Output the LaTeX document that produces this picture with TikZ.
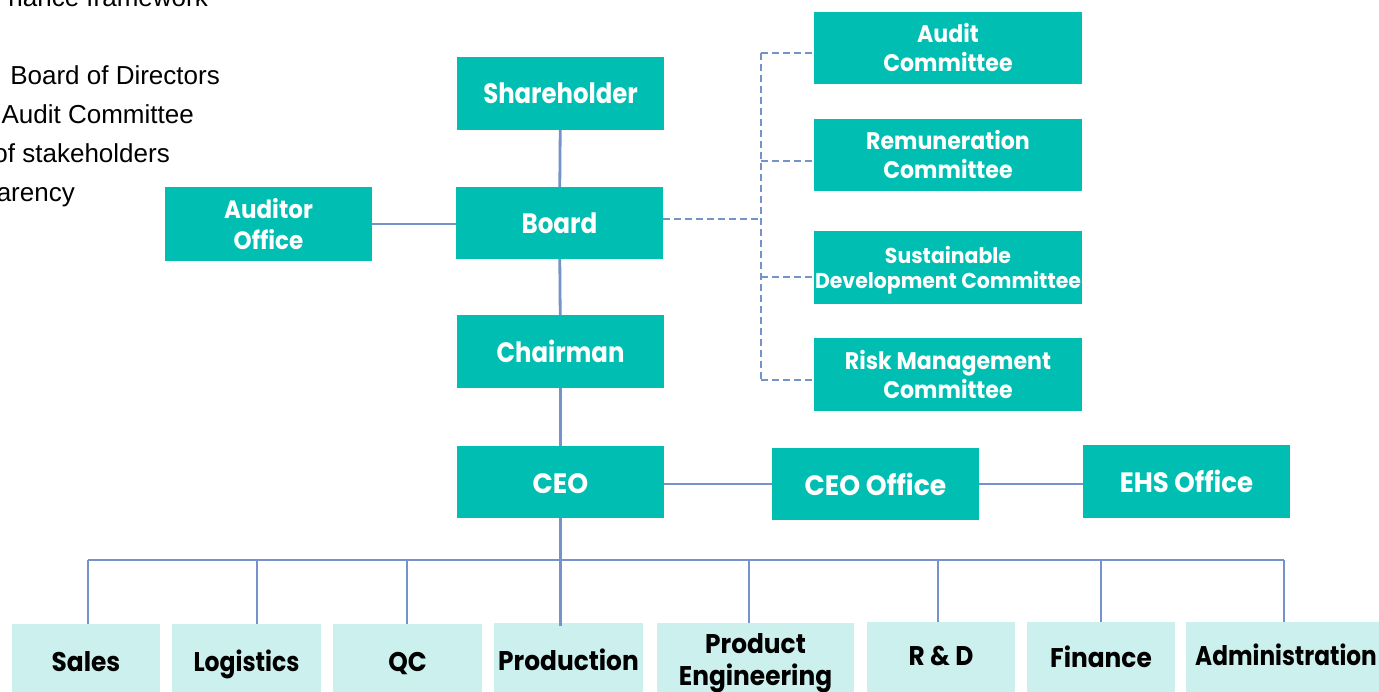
\documentclass[tikz,border=0pt]{standalone}
\usepackage{fontspec}
\setmainfont{Poppins}
\newfontfamily\arialf{Liberation Sans}
\usepackage{graphicx}
\definecolor{tealbox}{HTML}{00BFB2}
\definecolor{lightbox}{HTML}{CCF0EE}
\definecolor{linec}{HTML}{7393C9}
% raise text without changing the box size
\newcommand\lift[2]{\raisebox{#1}[\height][\depth]{#2}}
% two-line text, squeezed and lowered a little
\newcommand\sqz[2][0.92]{\lift{-3.5pt}{\scalebox{#1}[1]{\begin{tabular}{@{}c@{}}#2\end{tabular}}}}
\newcommand\sq[2][0.92]{\scalebox{#1}[1]{#2}}
\tikzset{
  tbox/.style={fill=tealbox, draw=none, text=white, inner sep=0pt, minimum width=207pt, minimum height=73pt},
  cbox/.style={fill=tealbox, draw=none, text=white, inner sep=0pt, minimum width=268pt, minimum height=72pt},
  lbox/.style={fill=lightbox, draw=none, text=black, inner sep=0pt, minimum height=74pt},
  one/.style={text height=20pt, text depth=0pt},
  bigf/.style={font=\bfseries\fontsize{28}{30}\selectfont},
  midf/.style={font=\bfseries\fontsize{25}{31}\selectfont},
  comf/.style={font=\bfseries\fontsize{24}{29}\selectfont},
  smlf/.style={font=\bfseries\fontsize{21.5}{24}\selectfont},
  botf/.style={font=\bfseries\fontsize{27}{32}\selectfont},
  conn/.style={draw=linec, line width=2.8pt},
  dconn/.style={draw=linec, line width=2.8pt, dash pattern=on 7pt off 4pt},
  ltxt/.style={font=\arialf\fontsize{26}{30}\selectfont, text=black, inner sep=0pt, anchor=base east}
}
\begin{document}
\begin{tikzpicture}[x=1pt,y=-1pt]
\useasboundingbox (0,0) rectangle (1379,692);
\clip (0,0) rectangle (1379,692);
% top-left text fragments (cut by the picture edge, as in the reference)
\node[ltxt] (t0) at (208,7) {nance framework};
\node[ltxt] (t1) at (220,85) {Board of Directors};
\node[ltxt] (t2) at (194,124) {Audit Committee};
\node[ltxt] (t3) at (170,163) {of stakeholders};
\node[ltxt] (t4) at (75,202) {arency};
% main boxes
\node[tbox,bigf] (sh) at (560.5,93.5) {\sq[0.87]{Shareholder}};
\node[tbox,bigf,minimum height=72pt] (board) at (559.5,223) {\sq[0.88]{Board}};
\node[tbox,midf,minimum height=74pt] (aud) at (268.5,224) {\sqz{Auditor\\Office}};
\node[tbox,bigf] (chair) at (560.5,351.5) {\sq[0.87]{Chairman}};
\node[tbox,bigf,minimum height=72pt] (ceo) at (560.5,482) {\lift{-2pt}{\sq[0.95]{CEO}}};
\node[tbox,bigf,minimum height=72pt] (ceoo) at (875.5,484) {\sq[0.95]{CEO Office}};
\node[tbox,bigf] (ehs) at (1186.5,481.5) {\sq[0.93]{EHS Office}};
% committees
\node[cbox,comf] (ac) at (948,48) {\sqz{Audit\\Committee}};
\node[cbox,comf] (rc) at (948,155) {\sqz{Remuneration\\Committee}};
\node[cbox,smlf,minimum height=73pt] (sc) at (948,267.5) {\sqz[0.95]{Sustainable\\Development Committee}};
\node[cbox,comf,minimum height=73pt] (rm) at (948,374.5) {\sqz{Risk Management\\Committee}};
% bottom departments
\node[lbox,botf,one,minimum width=148pt] (sales) at (86,661) {\sq{Sales}};
\node[lbox,botf,one,minimum width=149pt] (logi) at (246.5,661) {\sq[0.87]{Logistics}};
\node[lbox,botf,one,minimum width=149pt] (qc) at (407.5,661) {\sq{QC}};
\node[lbox,botf,one,minimum width=149pt] (prod) at (568.5,660) {\sq{Production}};
\node[lbox,botf,minimum width=197pt] (pe) at (755.5,660) {\sqz{Product\\Engineering}};
\node[lbox,botf,one,minimum width=148pt] (rd) at (941,659) {\lift{4pt}{\sq{R \& D}}};
\node[lbox,botf,one,minimum width=148pt] (fin) at (1101,659) {\lift{2pt}{\sq{Finance}}};
\node[lbox,botf,one,minimum width=200pt] (adm) at (1286,659) {\lift{4pt}{\sq[0.86]{Administration}}};
% solid connectors
\draw[conn] (sh) -- (board);
\draw[conn] (board) -- (chair);
\draw[conn] (chair) -- (ceo);
\draw[conn] (aud.east) -- (aud.east -| board.west);
\draw[conn] (ceo.east |- ceoo) -- (ceoo.west);
\draw[conn] (ceoo.east) -- (ceoo.east -| ehs.west);
% bus
\coordinate (busL) at (88,560);
\coordinate (busR) at (1284,560);
\coordinate (busC) at (560.5,560);
\draw[conn] (ceo.south) -- (busC);
\draw[conn] (busL) -- (busR);
\coordinate (d1) at (88,560);
\coordinate (d2) at (257,560);
\coordinate (d3) at (407,560);
\coordinate (d4) at (560.5,560);
\coordinate (d5) at (749,560);
\coordinate (d6) at (938,560);
\coordinate (d7) at (1101,560);
\coordinate (d8) at (1284,560);
\draw[conn] (d1) -- (d1 |- sales.north);
\draw[conn] (d2) -- (d2 |- logi.north);
\draw[conn] (d3) -- (d3 |- qc.north);
\draw[conn] (d4) -- ([yshift=-3pt]d4 |- prod.north);
\draw[conn] (d5) -- (d5 |- pe.north);
\draw[conn] (d6) -- (d6 |- rd.north);
\draw[conn] (d7) -- (d7 |- fin.north);
\draw[conn] (d8) -- (d8 |- adm.north);
% dashed committee links
\coordinate (hub) at (761,219);
\coordinate (b1) at (761,53);
\coordinate (b2) at (761,161);
\coordinate (b3) at (761,277);
\coordinate (b4) at (761,380);
\draw[dconn] (board.east |- hub) -- (hub);
\draw[dconn] (b1) -- (b4);
\draw[dconn] (b1) -- (b1 -| ac.west);
\draw[dconn] (b2) -- (b2 -| rc.west);
\draw[dconn] (b3) -- (b3 -| sc.west);
\draw[dconn] (b4) -- (b4 -| rm.west);
\end{tikzpicture}
\end{document}
